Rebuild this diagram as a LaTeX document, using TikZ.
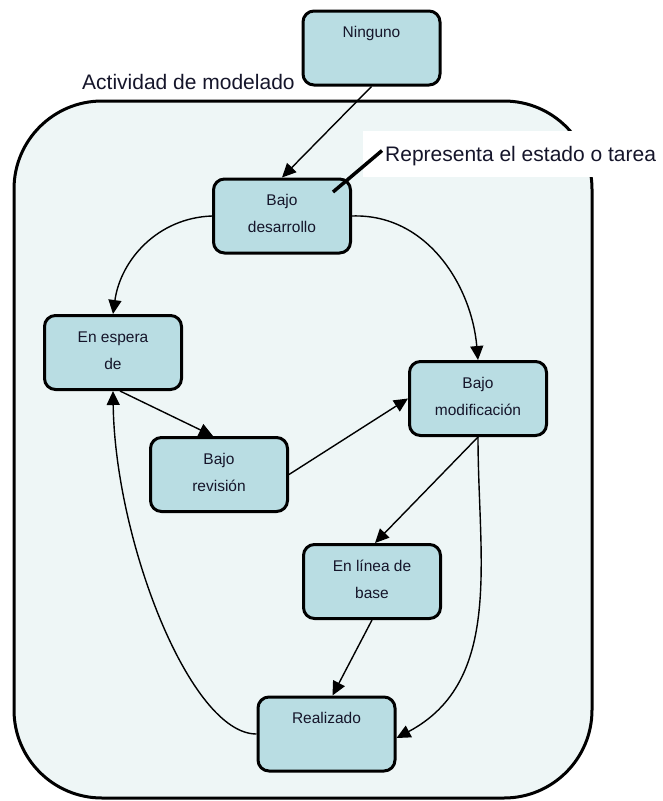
\documentclass[tikz,border=0pt]{standalone}
\usepackage{fontspec}
\setmainfont{Liberation Sans}
\usetikzlibrary{arrows.meta}
\definecolor{nodefill}{HTML}{B9DDE3}
\definecolor{bgfill}{HTML}{EEF6F6}
\definecolor{ink}{HTML}{15152A}
\newcommand{\stext}[1]{\parbox[c][74pt][t]{137pt}{\centering\fontsize{15.5}{27}\selectfont\rule{0pt}{26.5pt}#1}}
\begin{document}
\begin{tikzpicture}[x=1pt,y=-1pt,
  state/.style={draw=black, line width=3pt, rounded corners=11pt, fill=nodefill, inner sep=0pt, text=ink},
  flow/.style={line width=1.4pt, -{Triangle[length=14pt,width=13pt]}},
  biglabel/.style={inner sep=0pt, text=ink, font=\fontsize{21}{25}\selectfont}]
\useasboundingbox (0,0) rectangle (662,801);
% container
\draw[line width=3pt, fill=bgfill, rounded corners=88pt] (14,101) rectangle (592,798);
\node[biglabel, anchor=base west] (act) at (82,89) {Actividad de modelado};
% states
\node[state] (ning) at (371.5,48) {\stext{Ninguno}};
\node[state] (bd) at (282,216) {\stext{Bajo\\desarrollo}};
\node[state] (ee) at (113,352.5) {\stext{En espera\\de}};
\node[state] (br) at (219,474.5) {\stext{Bajo\\revisión}};
\node[state] (bm) at (478,398.5) {\stext{Bajo\\modificación}};
\node[state] (el) at (372,581.5) {\stext{En línea de\\base}};
\node[state] (re) at (326.5,734) {\stext{Realizado}};
% callout
\fill[white] (363,131) rectangle (662,177);
\node[biglabel, anchor=base west] (call) at (385,161) {Representa el estado o tarea};
\coordinate (cs) at ([shift={(51,-24)}]bd.center);
\draw[line width=3.5pt] (cs) -- ([shift={(-3,-5)}]call.west);
% transitions
\draw[flow] (ning.south) -- (bd.north);
\draw[flow] (bd.west) to[out=182, in=82] (ee.north);
\draw[flow] (bd.east) to[out=2, in=95] (bm.north);
\draw[flow] ([xshift=7pt]ee.south) -- ([xshift=-6pt]br.north);
\draw[flow] (br.east) -- (bm.west);
\draw[flow] (bm.south) -- ([xshift=3pt]el.north);
\draw[flow] (bm.south) to[out=-90, in=28] ([yshift=-4pt]re.east);
\draw[flow] (el.south) -- ([xshift=6pt]re.north);
\draw[flow] (re.west) .. controls (190,734) and (115,540) .. (ee.south);
\end{tikzpicture}
\end{document}
